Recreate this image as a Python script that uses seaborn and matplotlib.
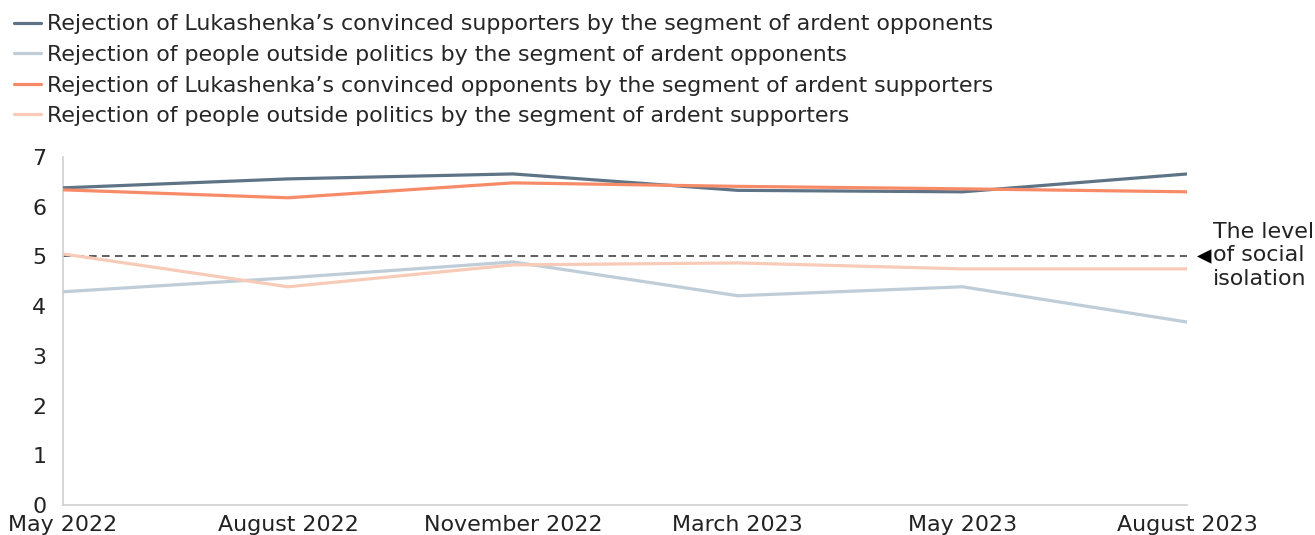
import numpy as np
import pandas as pd
import matplotlib
matplotlib.use("Agg")
import matplotlib.pyplot as plt
import seaborn as sns

periods = ["May 2022", "August 2022", "November 2022", "March 2023", "May 2023", "August 2023"]

series_names = [
    "Rejection of Lukashenka\u2019s convinced supporters by the segment of ardent opponents",
    "Rejection of people outside politics by the segment of ardent opponents",
    "Rejection of Lukashenka\u2019s convinced opponents by the segment of ardent supporters",
    "Rejection of people outside politics by the segment of ardent supporters",
]
opp_vs_supporters = [6.38, 6.56, 6.66, 6.33, 6.30, 6.66]
opp_vs_outside = [4.29, 4.57, 4.89, 4.21, 4.39, 3.68]
sup_vs_opponents = [6.34, 6.18, 6.48, 6.41, 6.36, 6.30]
sup_vs_outside = [5.05, 4.39, 4.83, 4.87, 4.75, 4.75]
isolation_level = 5

colors = ["#5e7486", "#bfcdd8", "#f88b67", "#f7cbb7"]

values = [opp_vs_supporters, opp_vs_outside, sup_vs_opponents, sup_vs_outside]
df = pd.DataFrame({
    "idx": np.tile(np.arange(len(periods)), len(series_names)),
    "value": np.concatenate(values),
    "series": np.repeat(series_names, len(periods)),
})

sns.set_theme(style="white")
plt.rcParams["font.family"] = ["DejaVu Sans"]

FS = 15.9

fig = plt.figure(figsize=(13.15, 5.35), dpi=100)
ax = fig.add_axes([0.048, 0.056, 0.855, 0.6505])

# dashed reference line for the isolation threshold
ax.plot([0, len(periods) - 1], [isolation_level, isolation_level],
        color="#333333", lw=1.1, ls=(0, (5, 3.5)), zorder=1)

sns.lineplot(data=df, x="idx", y="value", hue="series", hue_order=series_names,
             palette=colors, linewidth=2.3, ax=ax, legend=True, zorder=3)

ax.set_xlim(0, len(periods) - 1)
ax.set_ylim(0, 7)
ax.set_xticks(range(len(periods)))
ax.set_xticklabels(periods)
ax.set_yticks(range(0, 8))
ax.set_xlabel("")
ax.set_ylabel("")
ax.tick_params(axis="both", length=0, labelsize=FS, colors="#222222")
ax.tick_params(axis="x", pad=7.5)
ax.tick_params(axis="y", pad=12)
for side in ["top", "right"]:
    ax.spines[side].set_visible(False)
for side in ["left", "bottom"]:
    ax.spines[side].set_color("#cfcfcf")
    ax.spines[side].set_linewidth(1.2)

handles, labels = ax.get_legend_handles_labels()
ax.legend_.remove()
fig.legend(handles, labels, loc="upper left", bbox_to_anchor=(0.0, 1.0),
           frameon=False, fontsize=FS, handlelength=1.2, handletextpad=0.3,
           labelspacing=0.48, borderaxespad=0.25)

# annotation for the threshold line
ax.annotate("", xy=(len(periods) - 1 + 0.03, isolation_level), xycoords="data",
            xytext=(len(periods) - 1 + 0.095, isolation_level),
            arrowprops=dict(arrowstyle="-|>", color="black", lw=0, mutation_scale=26),
            annotation_clip=False)
ax.text(len(periods) - 1 + 0.115, isolation_level + 0.02, "The level\nof social\nisolation",
        ha="left", va="center", fontsize=FS, color="#222222", linespacing=1.2,
        clip_on=False)

fig.savefig("out.png", dpi=100)
